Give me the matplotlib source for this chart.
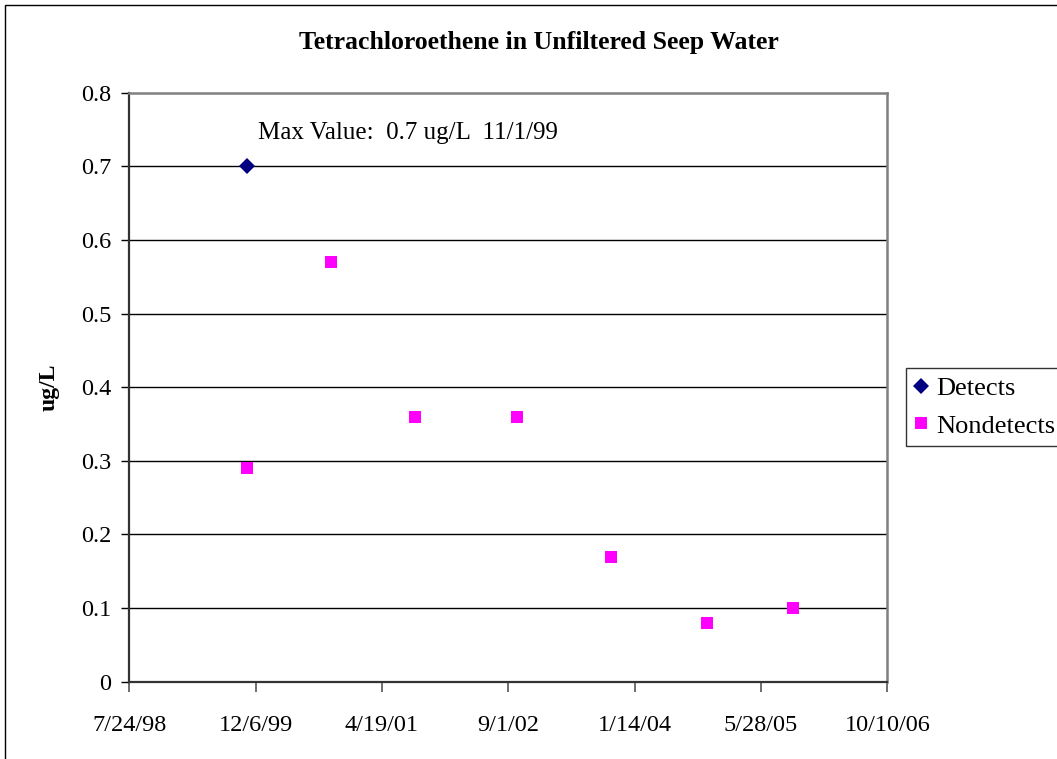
""" Tetrachloroethene in unfiltered seep water, detects vs nondetects
"""

import datetime as dt
import matplotlib
matplotlib.use('Agg')
import matplotlib.pyplot as plt
from matplotlib.patches import Rectangle

# Data
detect_dates = ['1999-11-01']
detect_vals = [0.7]
nondetect_dates = ['1999-11-01', '2000-09-28', '2001-08-26', '2002-10-04',
                   '2003-10-11', '2004-10-25', '2005-09-30']
nondetect_vals = [0.29, 0.57, 0.36, 0.36, 0.17, 0.08, 0.10]
title_txt = 'Tetrachloroethene in Unfiltered Seep Water'
note_txt = 'Max Value:  0.7 ug/L  11/1/99'
ylab = 'ug/L'
x_start = dt.date(1998, 7, 24)
x_step_days = 500
n_xticks = 7
y_ticks = [0, 0.1, 0.2, 0.3, 0.4, 0.5, 0.6, 0.7, 0.8]
y_ticklabels = ['0', '0.1', '0.2', '0.3', '0.4', '0.5', '0.6', '0.7', '0.8']

plt.rcParams['font.family'] = ['Liberation Serif', 'DejaVu Serif']


def to_dates(lst):
    return [dt.datetime.strptime(s, '%Y-%m-%d').date() for s in lst]


fig = plt.figure(figsize=(10.57, 7.59), dpi=100)
# outer chart border (right and bottom fall outside the picture)
fig.patches.append(Rectangle((5 / 1057., -0.05), 1.2, (759 - 5) / 759. + 0.05,
                             transform=fig.transFigure, fill=False,
                             edgecolor='black', linewidth=1.0))

ax = fig.add_axes([129.3 / 1057., 77.3 / 759., 758.0 / 1057., 589.0 / 759.])

xticks = [x_start + dt.timedelta(days=x_step_days * i) for i in range(n_xticks)]
xlabels = ['{0}/{1}/{2}'.format(d.month, d.day, d.strftime('%y')) for d in xticks]

# gridlines
for yv in y_ticks[1:-1]:
    ax.axhline(yv, color='black', linewidth=1.0, zorder=1)

ax.plot(to_dates(detect_dates), detect_vals, linestyle='none', marker='D',
        markersize=8.5, color='#000080', markeredgewidth=0, zorder=3,
        label='Detects', clip_on=False)
ax.plot(to_dates(nondetect_dates), nondetect_vals, linestyle='none', marker='s',
        markersize=9, color='#FF00FF', markeredgewidth=0, zorder=3,
        label='Nondetects', clip_on=False)

ax.set_xlim(xticks[0], xticks[-1])
ax.set_ylim(y_ticks[0], y_ticks[-1])
ax.set_xticks(xticks)
ax.set_xticklabels(xlabels)
ax.set_yticks(y_ticks)
ax.set_yticklabels(y_ticklabels)
ax.tick_params(axis='y', direction='out', length=6, width=1, pad=7,
               labelsize=17.5, colors='black')
ax.tick_params(axis='x', direction='out', length=7, width=1.2, pad=17,
               labelsize=17.5, color='#555555')

for s in ['top', 'right']:
    ax.spines[s].set_color('#808080')
    ax.spines[s].set_linewidth(1.8)
for s in ['left', 'bottom']:
    ax.spines[s].set_color('#333333')
    ax.spines[s].set_linewidth(1.6)

ax.set_ylabel(ylab, fontsize=17, fontweight='bold')
ax.yaxis.set_label_coords(-0.092, 0.5)

ax.text(0.17, 0.931, note_txt, transform=ax.transAxes, ha='left', va='center',
        fontsize=18)

fig.text(539 / 1057., 1 - 43 / 759., title_txt, ha='center', va='center',
         fontsize=18.5, fontweight='bold')

leg = ax.legend(loc='center left',
                bbox_to_anchor=(905.7 / 1057., 1 - 407 / 759.),
                bbox_transform=fig.transFigure, fontsize=19, frameon=True,
                fancybox=False, edgecolor='black', borderpad=0.3,
                handlelength=0.55, handletextpad=0.3, labelspacing=0.55,
                borderaxespad=0)
leg.get_frame().set_linewidth(1.0)

fig.savefig('out.png', dpi=100)
